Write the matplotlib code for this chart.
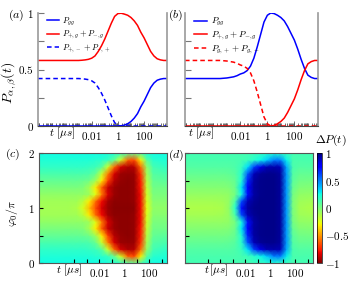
import numpy as np
import matplotlib
matplotlib.use('Agg')
import matplotlib.pyplot as plt
from matplotlib.ticker import FixedLocator, FixedFormatter, LogLocator, NullFormatter, NullLocator

plt.rcParams['mathtext.fontset'] = 'cm'
plt.rcParams['font.family'] = ['DejaVu Serif']

# ---- panels (a), (b): populations vs log10(t / us) ----
logt = [-6.1, -5, -4, -3.5, -3, -2.75, -2.5, -2.25, -2, -1.75, -1.5, -1.25, -1, -0.75, -0.5, -0.25,
        0, 0.25, 0.5, 0.75, 1, 1.25, 1.5, 1.75, 2, 2.25, 2.5, 2.75, 3, 3.25, 3.5, 3.75]
a_gg = [0] * 16 + [0, 0.002, 0.008, 0.02, 0.04, 0.07, 0.11, 0.17, 0.22, 0.28, 0.34, 0.38, 0.405, 0.415, 0.42, 0.42]
a_pg = [0.58, 0.58, 0.58, 0.58, 0.58, 0.582, 0.585, 0.59, 0.60, 0.62, 0.66, 0.71, 0.77, 0.84, 0.91, 0.97,
        0.995, 0.998, 0.99, 0.98, 0.96, 0.93, 0.89, 0.83, 0.78, 0.72, 0.66, 0.62, 0.595, 0.585, 0.58, 0.58]
a_pm = [0.42, 0.42, 0.42, 0.42, 0.42, 0.418, 0.415, 0.41, 0.40, 0.38, 0.34, 0.29, 0.23, 0.16, 0.09, 0.03,
        0.005] + [0] * 15
b_gg = [0.42, 0.42, 0.42, 0.42, 0.425, 0.43, 0.435, 0.445, 0.46, 0.47, 0.49, 0.53, 0.6, 0.7, 0.81, 0.92,
        0.98, 1.0, 0.995, 0.98, 0.96, 0.93, 0.88, 0.82, 0.76, 0.68, 0.59, 0.51, 0.45, 0.43, 0.42, 0.42]
b_pg = [0] * 18 + [0.005, 0.02, 0.04, 0.07, 0.12, 0.18, 0.24, 0.32, 0.41, 0.49, 0.55, 0.57, 0.58, 0.58]
b_gpm = [0.58, 0.58, 0.58, 0.58, 0.575, 0.57, 0.565, 0.555, 0.54, 0.53, 0.51, 0.47, 0.40, 0.30, 0.19, 0.08,
         0.02] + [0] * 15

# ---- panels (c), (d): Delta P(t) maps, phi0/pi from 0 to 1 (mirror above 1) ----
hm_logt = [-6.8, -4.5, -3.8, -3.3, -2.8, -2.3, -1.8, -1.3, -0.8, -0.3, 0.3, 0.8, 1.3, 1.8, 2.3, 3.4]
hm_phi = [0, 0.125, 0.25, 0.375, 0.5, 0.625, 0.75, 0.875, 1.0,
          1.125, 1.25, 1.375, 1.5, 1.625, 1.75, 1.875, 2.0]
dp_c_half = [
    [0.25, 0.25, 0.25, 0.25, 0.25, 0.25, 0.25, 0.24, 0.22, 0.18, 0.08, 0.05, 0.12, 0.22, 0.25, 0.25],
    [0.22, 0.22, 0.22, 0.22, 0.22, 0.21, 0.2, 0.16, 0.05, -0.2, -0.62, -0.66, -0.32, 0.08, 0.2, 0.22],
    [0.18, 0.18, 0.18, 0.18, 0.17, 0.15, 0.08, -0.2, -0.6, -0.85, -0.92, -0.9, -0.6, -0.05, 0.14, 0.18],
    [0.12, 0.12, 0.12, 0.12, 0.11, 0.05, -0.18, -0.55, -0.85, -0.95, -0.96, -0.95, -0.72, -0.1, 0.1, 0.12],
    [0.06, 0.06, 0.06, 0.05, 0.03, -0.08, -0.32, -0.68, -0.9, -0.96, -0.97, -0.96, -0.76, -0.14, 0.06, 0.08],
    [0.0, 0.0, 0.0, -0.01, -0.1, -0.32, -0.62, -0.88, -0.95, -0.97, -0.97, -0.96, -0.78, -0.17, 0.03, 0.03],
    [-0.05, -0.05, -0.05, -0.05, -0.08, -0.25, -0.55, -0.85, -0.95, -0.97, -0.97, -0.96, -0.8, -0.2, 0.0, 0.0],
    [-0.09, -0.09, -0.09, -0.15, -0.32, -0.58, -0.8, -0.93, -0.97, -0.97, -0.97, -0.96, -0.8, -0.22, -0.03, -0.03],
    [-0.1, -0.1, -0.12, -0.22, -0.42, -0.65, -0.85, -0.95, -0.98, -0.98, -0.98, -0.97, -0.8, -0.25, -0.05, -0.05],
]
dp_d_half = [
    [0.14, 0.14, 0.14, 0.14, 0.14, 0.14, 0.14, 0.15, 0.17, 0.2, 0.22, 0.2, 0.16, 0.14, 0.14, 0.14],
    [0.12, 0.12, 0.12, 0.12, 0.12, 0.13, 0.15, 0.2, 0.26, 0.35, 0.5, 0.5, 0.28, 0.12, 0.12, 0.12],
    [0.1, 0.1, 0.1, 0.1, 0.11, 0.16, 0.32, 0.62, 0.82, 0.9, 0.92, 0.9, 0.42, 0.12, 0.1, 0.1],
    [0.06, 0.06, 0.06, 0.07, 0.09, 0.2, 0.58, 0.9, 0.96, 0.97, 0.97, 0.94, 0.45, 0.1, 0.06, 0.06],
    [0.02, 0.02, 0.02, 0.03, 0.06, 0.22, 0.68, 0.93, 0.97, 0.98, 0.98, 0.95, 0.45, 0.08, 0.03, 0.02],
    [-0.02, -0.02, -0.02, -0.01, 0.04, 0.3, 0.78, 0.94, 0.97, 0.98, 0.98, 0.95, 0.45, 0.05, -0.01, -0.02],
    [-0.06, -0.06, -0.06, -0.05, 0.02, 0.25, 0.72, 0.93, 0.97, 0.98, 0.98, 0.95, 0.45, 0.02, -0.05, -0.06],
    [-0.1, -0.1, -0.09, -0.06, 0.12, 0.6, 0.9, 0.96, 0.98, 0.98, 0.98, 0.95, 0.45, 0.0, -0.08, -0.1],
    [-0.12, -0.12, -0.11, -0.05, 0.2, 0.72, 0.93, 0.97, 0.98, 0.98, 0.98, 0.95, 0.45, 0.0, -0.1, -0.12],
]
dp_c = np.vstack([dp_c_half, dp_c_half[-2::-1]])
dp_d = np.vstack([dp_d_half, dp_d_half[-2::-1]])

W, H = 352, 281
fig = plt.figure(figsize=(W / 100, H / 100), dpi=100)
def px(l, t, r, b):
    return [l / W, 1 - b / H, (r - l) / W, (b - t) / H]

ax_a = fig.add_axes(px(38, 13, 167, 126))
ax_b = fig.add_axes(px(185, 13, 318, 126))
ax_c = fig.add_axes(px(39, 153, 167, 263))
ax_d = fig.add_axes(px(185, 153, 313, 263))
cax = fig.add_axes(px(317, 153, 322, 263))

fs = 8
t = 10 ** np.array(logt)
xlab = FixedFormatter(['$0.01$', '$1$', '$100$'])

for ax in (ax_a, ax_b):
    ax.set_xscale('log')
    ax.set_xlim(10 ** -6.1, 10 ** 3.75)
    ax.set_ylim(0, 1)
    ax.xaxis.set_major_locator(FixedLocator([1e-2, 1, 1e2]))
    ax.xaxis.set_major_formatter(xlab)
    ax.xaxis.set_minor_locator(LogLocator(base=10, subs=np.arange(1, 10), numticks=30))
    ax.xaxis.set_minor_formatter(NullFormatter())
    ax.tick_params(axis='x', which='both', direction='in', colors='#555555', labelcolor='black',
                   labelsize=fs, pad=3)
    ax.tick_params(axis='x', which='minor', length=2.5, width=0.6)
    ax.tick_params(axis='x', which='major', length=3.5, width=0.6)
    ax.yaxis.set_major_locator(FixedLocator([0, 0.5, 1]))
    ax.yaxis.set_minor_locator(FixedLocator([0.25, 0.75]))
    ax.tick_params(axis='y', which='both', direction='in', colors='#777777', labelcolor='black',
                   labelsize=fs, length=4, width=0.8, pad=3)
    ax.spines['top'].set_visible(False)
    for s in ('left', 'right'):
        ax.spines[s].set_color('#999999')
        ax.spines[s].set_linewidth(1.2)
    ax.spines['bottom'].set_color('#444444')

ax_a.yaxis.set_major_formatter(FixedFormatter(['$0$', '$0.5$', '$1$']))
ax_b.yaxis.set_major_formatter(NullFormatter())
ax_b.yaxis.set_major_locator(FixedLocator([0.5]))

leg_kw = dict(loc='upper left', bbox_to_anchor=(0.03, 1.02), frameon=False,
              handlelength=1.4, handletextpad=0.4, labelspacing=0.1, borderaxespad=0.2)

ax_a.plot(t, a_gg, color='blue', lw=1.1, label=r'$P_{gg}$')
ax_a.plot(t, a_pg, color='red', lw=1.1, label=r'$P_{+,g}+P_{-,g}$')
ax_a.plot(t, a_pm, color='blue', lw=1.1, ls=(0, (3, 2)), label=r'$P_{+,-}+P_{-,+}$')
ax_a.legend(fontsize=6, **leg_kw)
ax_a.set_ylabel(r'$P_{\alpha,\beta}(t)$', fontsize=10, labelpad=2)
ax_a.yaxis.set_label_coords(-0.155, 0.38)

ax_b.plot(t, b_gg, color='blue', lw=1.1, label=r'$P_{gg}$')
ax_b.plot(t, b_pg, color='red', lw=1.1, label=r'$P_{+,g}+P_{-,g}$')
ax_b.plot(t, b_gpm, color='red', lw=1.1, ls=(0, (3, 2)), label=r'$P_{g,+}+P_{g,-}$')
ax_b.legend(fontsize=6.5, **leg_kw)

# heatmaps
th = 10 ** np.array(hm_logt)
for ax, z, ticks in ((ax_c, dp_c, [1e-4, 1e-3, 1e-2, 1e-1, 1, 10, 100, 1000]),
                     (ax_d, dp_d, [1e-5, 1e-4, 1e-3, 1e-2, 1e-1, 1, 10, 100, 1000])):
    m = ax.pcolormesh(th, hm_phi, z, cmap='jet_r', vmin=-1, vmax=1, shading='gouraud',
                      rasterized=True)
    ax.set_xscale('log')
    ax.set_xlim(10 ** -6.8, 10 ** 3.4)
    ax.set_ylim(0, 2)
    ax.xaxis.set_major_locator(FixedLocator(ticks))
    labs = {1e-2: '$0.01$', 1: '$1$', 100: '$100$'}
    ax.xaxis.set_major_formatter(FixedFormatter([labs.get(v, '') for v in ticks]))
    ax.xaxis.set_minor_locator(NullLocator())
    ax.yaxis.set_major_locator(FixedLocator([0, 0.5, 1, 1.5, 2]))
    ax.tick_params(direction='in', length=3, width=0.8, labelsize=fs, pad=3)
    for s in ax.spines.values():
        s.set_color('#555555')
        s.set_linewidth(0.8)

ax_c.yaxis.set_major_formatter(FixedFormatter(['$0$', '', '$1$', '', '$2$']))
ax_d.yaxis.set_major_formatter(NullFormatter())
ax_c.set_ylabel(r'$\varphi_0/\pi$', fontsize=8.5, labelpad=1)
ax_c.yaxis.set_label_coords(-0.15, 0.45)

cb = fig.colorbar(m, cax=cax, ticks=[-1, -0.5, 0, 0.5, 1])
cb.ax.set_yticklabels(['$-1$', '$-0.5$', '$0$', '$0.5$', '$1$'])
cb.ax.tick_params(length=0, labelsize=fs, pad=2)
cb.outline.set_linewidth(0.5)
fig.text(331 / W, 1 - 140 / H, r'$\Delta P(t)$', fontsize=8.5, ha='center', va='center')

# time-axis names in the tick label rows
fig.text(62 / W, 1 - 133 / H, r'$t\ [\mu s]$', fontsize=fs, ha='center', va='center')
fig.text(201 / W, 1 - 133 / H, r'$t\ [\mu s]$', fontsize=fs, ha='center', va='center')
fig.text(69 / W, 1 - 270 / H, r'$t\ [\mu s]$', fontsize=fs, ha='center', va='center')
fig.text(216 / W, 1 - 270 / H, r'$t\,[\mu s]$', fontsize=fs, ha='center', va='center')

# panel letters
for x, y, s in ((16, 15, '(a)'), (176, 15, '(b)'), (13, 154, '(c)'), (176, 155, '(d)')):
    fig.text(x / W, 1 - y / H, '$' + s + '$', fontsize=8.5, ha='center', va='center')

fig.savefig('out.png', dpi=100)
